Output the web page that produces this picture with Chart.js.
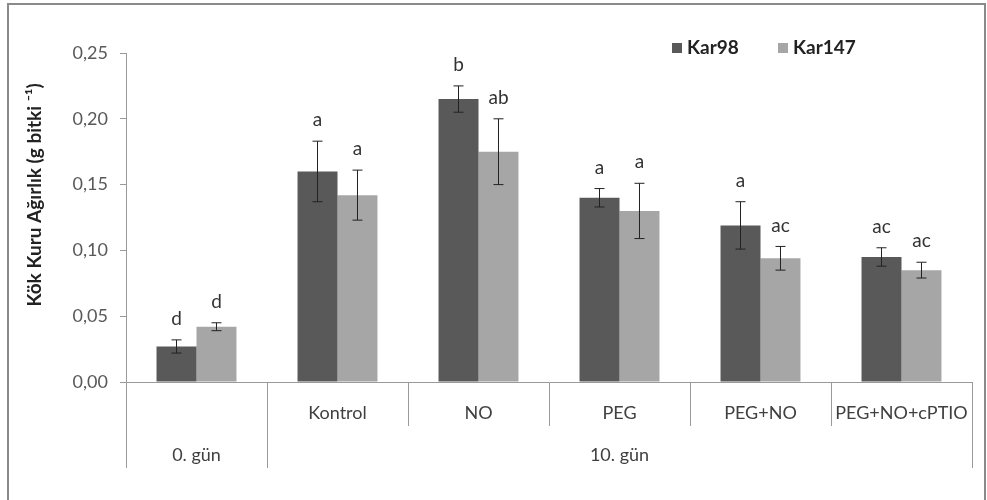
<!DOCTYPE html>
<html>
<head>
<meta charset="utf-8">
<script src="https://cdn.jsdelivr.net/npm/chart.js@4"></script>
<style>
  html, body { margin: 0; padding: 0; background: #fff; }
  #wrap { width: 987px; height: 500px; position: relative; }
</style>
</head>
<body>
<div id="wrap"><canvas id="chart" width="987" height="500"></canvas></div>
<script>
// Données
const categories = ['', 'Kontrol', 'NO', 'PEG', 'PEG+NO', 'PEG+NO+cPTIO'];
const kar98 = [0.027, 0.160, 0.215, 0.140, 0.119, 0.095];
const kar98Err = [0.005, 0.023, 0.010, 0.007, 0.018, 0.007];
const kar147 = [0.042, 0.142, 0.175, 0.130, 0.094, 0.085];
const kar147Err = [0.003, 0.019, 0.025, 0.021, 0.009, 0.006];
const kar98Letters = ['d', 'a', 'b', 'a', 'a', 'ac'];
const kar147Letters = ['d', 'a', 'ab', 'a', 'ac', 'ac'];
const groupLabels = ['0. gün', '10. gün'];
const groupStart = [0, 1];
const groupEnd = [0, 5];
const yTicks = [0, 0.05, 0.10, 0.15, 0.20, 0.25];

const FONT = 'Lato, "Open Sans", sans-serif';
const DARK = '#595959';
const LIGHT = '#a6a6a6';
const AXIS = '#9a9a9a';

// Barres d'erreur, lettres, groupes et légende
const extras = {
  id: 'extras',
  afterDatasetsDraw(chart) {
    const { ctx } = chart;
    const y = chart.scales.y;
    const x = chart.scales.x;
    const errs = [kar98Err, kar147Err];
    const letters = [kar98Letters, kar147Letters];

    ctx.save();
    chart.data.datasets.forEach((ds, di) => {
      const meta = chart.getDatasetMeta(di);
      meta.data.forEach((bar, i) => {
        const v = ds.data[i];
        const top = y.getPixelForValue(v + errs[di][i]);
        const bot = y.getPixelForValue(v - errs[di][i]);
        ctx.strokeStyle = '#222';
        ctx.lineWidth = 1;
        ctx.beginPath();
        ctx.moveTo(bar.x, top); ctx.lineTo(bar.x, bot);
        ctx.moveTo(bar.x - 5, top); ctx.lineTo(bar.x + 5, top);
        ctx.moveTo(bar.x - 5, bot); ctx.lineTo(bar.x + 5, bot);
        ctx.stroke();

        ctx.fillStyle = '#333';
        ctx.font = '19px ' + FONT;
        ctx.textAlign = 'center';
        ctx.textBaseline = 'middle';
        ctx.fillText(letters[di][i], bar.x, top - 21);
      });
    });

    // séparateurs longs et étiquettes des groupes
    const half = (x.getPixelForValue(1) - x.getPixelForValue(0)) / 2;
    const base = y.getPixelForValue(0);
    ctx.strokeStyle = AXIS;
    ctx.lineWidth = 1;
    groupLabels.forEach((lab, g) => {
      const l = x.getPixelForValue(groupStart[g]) - half;
      const r = x.getPixelForValue(groupEnd[g]) + half;
      ctx.beginPath();
      ctx.moveTo(Math.round(l) + 0.5, base); ctx.lineTo(Math.round(l) + 0.5, base + 86);
      ctx.moveTo(Math.round(r) + 0.5, base); ctx.lineTo(Math.round(r) + 0.5, base + 86);
      ctx.stroke();
      ctx.fillStyle = '#404040';
      ctx.font = '18px ' + FONT;
      ctx.textAlign = 'center';
      ctx.textBaseline = 'middle';
      ctx.fillText(lab, (l + r) / 2, base + 73);
    });

    // titre de l'axe Y
    ctx.save();
    ctx.translate(35, 195);
    ctx.rotate(-Math.PI / 2);
    ctx.fillStyle = '#222';
    ctx.font = 'bold 19px ' + FONT;
    ctx.textAlign = 'center';
    ctx.textBaseline = 'middle';
    ctx.fillText('Kök Kuru Ağırlık (g bitki ⁻¹)', 0, 0);
    ctx.restore();

    // légende
    let lx = 672;
    chart.data.datasets.forEach((ds) => {
      ctx.fillStyle = ds.backgroundColor;
      ctx.fillRect(lx, 43, 10, 10);
      ctx.fillStyle = '#222';
      ctx.font = 'bold 19px ' + FONT;
      ctx.textAlign = 'left';
      ctx.textBaseline = 'middle';
      ctx.fillText(ds.label, lx + 15, 48);
      lx += 106;
    });

    // cadre
    ctx.strokeStyle = '#8a8a8a';
    ctx.lineWidth = 2;
    ctx.strokeRect(8, 4, 977, 520);
    ctx.restore();
  }
};

new Chart(document.getElementById('chart'), {
  type: 'bar',
  data: {
    labels: categories,
    datasets: [
      { label: 'Kar98', data: kar98, backgroundColor: DARK },
      { label: 'Kar147', data: kar147, backgroundColor: LIGHT }
    ]
  },
  options: {
    responsive: false,
    animation: false,
    layout: { padding: { left: 0, top: 53, right: 15, bottom: 0 } },
    datasets: { bar: { categoryPercentage: 0.567, barPercentage: 1.0 } },
    plugins: { legend: { display: false }, tooltip: { enabled: false } },
    scales: {
      x: {
        grid: { drawOnChartArea: false, offset: true, color: AXIS, tickLength: 44 },
        border: { color: AXIS },
        ticks: { color: '#404040', font: { family: FONT, size: 18 }, padding: -24, maxRotation: 0, autoSkip: false },
        afterFit(scale) { scale.height = 118; }
      },
      y: {
        min: 0, max: 0.25,
        afterBuildTicks(scale) { scale.ticks = yTicks.map(v => ({ value: v })); },
        grid: { drawOnChartArea: false, color: AXIS, tickLength: 6 },
        border: { color: AXIS },
        ticks: {
          color: DARK, font: { family: FONT, size: 18 }, padding: 12,
          callback: (v) => v.toFixed(2).replace('.', ',')
        },
        afterFit(scale) { scale.width = 126; }
      }
    }
  },
  plugins: [extras]
});
</script>
</body>
</html>
